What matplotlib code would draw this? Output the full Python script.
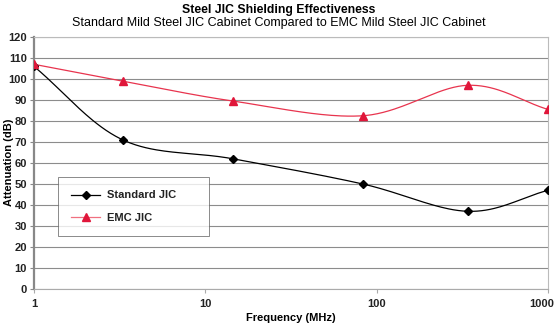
import numpy as np
import matplotlib.pyplot as plt
from matplotlib.transforms import ScaledTranslation

freq_mhz = [1, 3.3, 14.5, 83, 340, 1000]
standard_jic = [106, 71, 62, 50, 37, 47]
emc_jic = [107, 99, 89.5, 82.5, 97, 85.5]


def smooth(xs, ys, steps=40):
    # Catmull-Rom through the points, in log-x space like a smoothed line chart
    px = np.log10(np.asarray(xs, float))
    py = np.asarray(ys, float)
    px = np.concatenate([[2 * px[0] - px[1]], px, [2 * px[-1] - px[-2]]])
    py = np.concatenate([[2 * py[0] - py[1]], py, [2 * py[-1] - py[-2]]])
    out_x, out_y = [], []
    for i in range(1, len(px) - 2):
        t = np.linspace(0, 1, steps, endpoint=(i == len(px) - 3))
        for p, out in ((px, out_x), (py, out_y)):
            p0, p1, p2, p3 = p[i - 1], p[i], p[i + 1], p[i + 2]
            b1 = p1 + (p2 - p0) / 6
            b2 = p2 - (p3 - p1) / 6
            out.extend((1 - t) ** 3 * p1 + 3 * (1 - t) ** 2 * t * b1
                       + 3 * (1 - t) * t ** 2 * b2 + t ** 3 * p2)
    return 10 ** np.array(out_x), np.array(out_y)


plt.rcParams['font.family'] = ['Liberation Sans', 'DejaVu Sans']
fig = plt.figure(figsize=(5.57, 3.24), dpi=100)
ax = fig.add_axes([34 / 557, 35 / 324, 514 / 557, 252 / 324])

sx, sy = smooth(freq_mhz, standard_jic)
ax.plot(sx, sy, color='black', lw=0.9, zorder=3)
ax.plot(freq_mhz, standard_jic, ls='none', marker='D', ms=4.5, color='black', zorder=4)
ex, ey = smooth(freq_mhz, emc_jic)
ax.plot(ex, ey, color='#e8344e', lw=0.9, zorder=3)
ax.plot(freq_mhz, emc_jic, ls='none', marker='^', ms=6, color='#e0163a', zorder=4)

# legend entries combine line and marker
ax.plot([], [], color='black', lw=0.9, marker='D', ms=4.5, label='Standard JIC')
ax.plot([], [], color='#f07080', lw=0.9, marker='^', ms=6, mfc='#e0163a', mec='#e0163a', label='EMC JIC')
leg = ax.legend(loc='upper left', bbox_to_anchor=(0.047, 0.214, 0.294, 0.23), mode='expand',
                frameon=True, fancybox=False, edgecolor='#555555',
                prop={'size': 8, 'weight': 'bold'}, handlelength=2.6,
                borderpad=1.2, labelspacing=1.1, handletextpad=0.6, borderaxespad=0)
leg.get_frame().set_linewidth(0.6)
for t in leg.get_texts():
    t.set_color('#222222')

ax.set_xscale('log')
ax.set_xlim(1, 1000)
ax.set_ylim(0, 120)
ax.set_yticks(np.arange(0, 121, 10))
ax.set_xticks([1, 10, 100, 1000])
ax.set_xticklabels(['1', '10', '100', '1000'])
ax.minorticks_off()
ax.yaxis.grid(True, color='#8c8c8c', lw=0.8)
ax.set_axisbelow(True)
for side in ['top', 'right']:
    ax.spines[side].set_color('#bbbbbb')
    ax.spines[side].set_linewidth(0.8)
ax.spines['left'].set_color('#888888')
ax.spines['left'].set_linewidth(1.6)
ax.spines['bottom'].set_color('#aaaaaa')
ax.spines['bottom'].set_linewidth(0.8)
ax.tick_params(axis='y', length=3, width=0.8, color='#888888', pad=2, labelsize=8)
ax.tick_params(axis='x', length=3, width=0.8, color='#aaaaaa', pad=4, labelsize=8)
for lab in ax.get_xticklabels() + ax.get_yticklabels():
    lab.set_fontweight('bold')
    lab.set_color('#222222')
# pull the last frequency label in so it stays on the canvas
last = ax.get_xticklabels()[-1]
last.set_transform(last.get_transform() + ScaledTranslation(-6 / 100, 0, fig.dpi_scale_trans))

ax.set_xlabel('Frequency (MHz)', fontsize=8, fontweight='bold', labelpad=3)
fig.text(9 / 557, 0.5, 'Attenuation (dB)', rotation=90, ha='center', va='center',
         fontsize=8, fontweight='bold')
fig.text(0.5, 1 - 10 / 324, 'Steel JIC Shielding Effectiveness', ha='center', va='center',
         fontsize=8.8, fontweight='bold')
fig.text(0.5, 1 - 23 / 324, 'Standard Mild Steel JIC Cabinet Compared to EMC Mild Steel JIC Cabinet',
         ha='center', va='center', fontsize=9)

fig.savefig('out.png', dpi=100)
